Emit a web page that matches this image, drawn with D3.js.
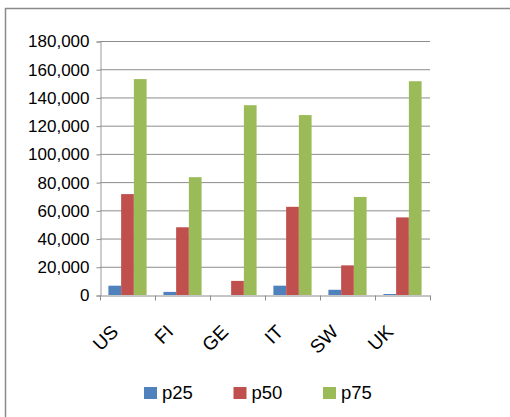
<html>
  <head>
    <title>percentiles</title>
    <script src="https://d3js.org/d3.v7.min.js"></script>
    <style>
      body { margin: 0; background: #fff; }
      text { font-family: "Liberation Sans", Arial, sans-serif; fill: #000; }
    </style>
  </head>
  <body>
    <div id='wrapper'>
      <script>
        // chart values
        var countries = ["US", "FI", "GE", "IT", "SW", "UK"];
        var seriesNames = ["p25", "p50", "p75"];
        var p25 = [6600, 2200, 0, 6600, 3700, 700];
        var p50 = [71500, 48000, 10000, 62500, 21000, 55000];
        var p75 = [153000, 83500, 134500, 127500, 69500, 151500];
        var yTicks = [0, 20000, 40000, 60000, 80000, 100000, 120000, 140000, 160000, 180000];
        var colors = ["#4F81BD", "#C0504D", "#9BBB59"];

        var values = [p25, p50, p75];

        var svgW = 510, svgH = 417;
        var plotLeft = 100, plotRight = 430, plotTop = 41, plotBottom = 295;

        var svg = d3.select("#wrapper").append("svg")
          .attr("width", svgW)
          .attr("height", svgH);

        // outer chart border (runs off right/bottom edge)
        svg.append("rect")
          .attr("x", 5.5).attr("y", 8.5)
          .attr("width", 600).attr("height", 500)
          .attr("fill", "none")
          .attr("stroke", "#8a8a8a")
          .attr("stroke-width", 1.5);

        var xScale = d3.scaleBand().domain(countries).range([plotLeft, plotRight]);
        var xInner = d3.scaleBand().domain(seriesNames)
          .range([0, xScale.bandwidth()])
          .paddingInner(0).paddingOuter(0.66);
        var yScale = d3.scaleLinear().domain([0, 180000]).range([plotBottom, plotTop]);

        // gridlines
        svg.append("g").selectAll("line")
          .data(yTicks.slice(1))
          .enter().append("line")
          .attr("x1", plotLeft).attr("x2", plotRight)
          .attr("y1", function(d) { return yScale(d) + 0.5; })
          .attr("y2", function(d) { return yScale(d) + 0.5; })
          .attr("stroke", "#8c8c8c")
          .attr("stroke-width", 1);

        // y axis
        var yAxis = d3.axisLeft(yScale).tickValues(yTicks)
          .tickFormat(d3.format(",")).tickSize(4).tickPadding(7);
        var gy = svg.append("g")
          .attr("transform", "translate(" + (plotLeft + 0.5) + ",0.5)")
          .call(yAxis);
        gy.select(".domain").attr("stroke", "#9a9a9a");
        gy.selectAll(".tick line").attr("stroke", "#8c8c8c");
        gy.selectAll("text")
          .style("font-size", "17px")
          .style("font-family", "'Liberation Sans', Arial, sans-serif")
          .attr("fill", "#000");

        // bars
        var groups = svg.append("g").selectAll("g")
          .data(countries)
          .enter().append("g")
          .attr("transform", function(d) { return "translate(" + xScale(d) + ",0)"; });

        groups.selectAll("rect")
          .data(function(c, i) {
            return seriesNames.map(function(s, j) { return { s: s, v: values[j][i], c: colors[j] }; });
          })
          .enter().append("rect")
          .attr("x", function(d) { return xInner(d.s); })
          .attr("width", xInner.bandwidth())
          .attr("y", function(d) { return yScale(d.v); })
          .attr("height", function(d) { return plotBottom - yScale(d.v); })
          .attr("fill", function(d) { return d.c; });

        // x axis
        var xAxis = d3.axisBottom(xScale).tickSize(0).tickFormat("");
        var gx = svg.append("g")
          .attr("transform", "translate(0," + (plotBottom + 0.5) + ")")
          .call(xAxis);
        gx.select(".domain").attr("stroke", "#8c8c8c");
        // category tick marks sit on band edges
        gx.selectAll("line.edge")
          .data(countries.concat(["end"]))
          .enter().append("line")
          .attr("class", "edge")
          .attr("x1", function(d, i) { return plotLeft + i * xScale.step() + 0.5; })
          .attr("x2", function(d, i) { return plotLeft + i * xScale.step() + 0.5; })
          .attr("y1", 0).attr("y2", 5)
          .attr("stroke", "#8c8c8c");

        // rotated category labels
        svg.append("g").selectAll("text")
          .data(countries)
          .enter().append("text")
          .attr("text-anchor", "end")
          .style("font-size", "19px")
          .attr("transform", function(d) {
            var cx = xScale(d) + xScale.bandwidth() / 2 - 8;
            return "translate(" + cx + "," + (plotBottom + 38) + ") rotate(-45)";
          })
          .text(function(d) { return d; });

        // legend
        var legend = svg.append("g").selectAll("g")
          .data(seriesNames)
          .enter().append("g")
          .attr("transform", function(d, i) { return "translate(" + (144 + i * 89.5) + ",387)"; });
        legend.append("rect")
          .attr("width", 13).attr("height", 12)
          .attr("fill", function(d, i) { return colors[i]; });
        legend.append("text")
          .attr("x", 18).attr("y", 12)
          .style("font-size", "18.5px")
          .text(function(d) { return d; });
      </script>
    </div>
  </body>
</html>
